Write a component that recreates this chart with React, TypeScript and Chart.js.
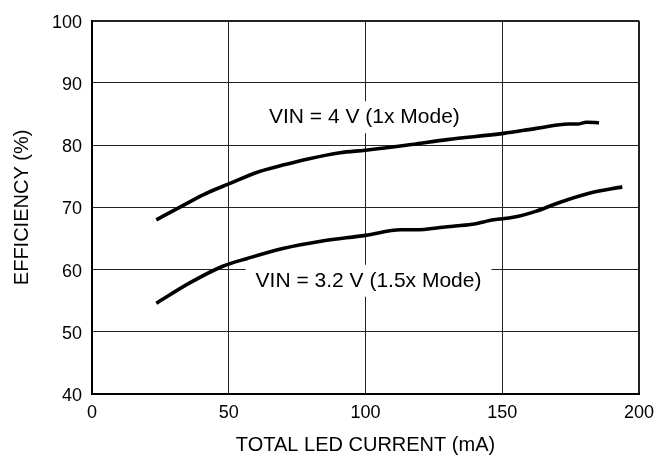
import React, { useEffect, useRef } from 'react';
import { Chart, registerables } from 'chart.js';

Chart.register(...registerables);

// ---- Data ----
const xTickValues = [0, 50, 100, 150, 200];
const yTickValues = [40, 50, 60, 70, 80, 90, 100];

const current4V = [23.5, 32, 41, 50.7, 60.7, 69.8, 79, 90.7, 100, 116.8, 129.9, 150.5, 162.5, 174.3, 177.6, 180.8, 185.4];
const efficiency4V = [68.0, 70.0, 72.1, 73.9, 75.7, 76.8, 77.8, 78.8, 79.2, 80.1, 80.9, 81.9, 82.7, 83.4, 83.4, 83.7, 83.6];

const current32V = [23.5, 35.9, 47.6, 56.8, 69.8, 84.2, 100, 112.9, 118.1, 129.9, 139, 146.9, 154, 162.5, 170.4, 182.1, 193.9];
const efficiency32V = [54.6, 57.9, 60.5, 61.8, 63.4, 64.6, 65.5, 66.4, 66.4, 66.9, 67.3, 68.0, 68.4, 69.4, 70.7, 72.3, 73.3];

const curveLabels = ['VIN = 4 V (1x Mode)', 'VIN = 3.2 V (1.5x Mode)'];
const curveLabelX = [99.6, 101.1];
const curveLabelY = [84.5, 58.2];

const xTitle = 'TOTAL LED CURRENT (mA)';
const yTitle = 'EFFICIENCY (%)';

const FONT = '"Liberation Sans", Arial, Helvetica, sans-serif';

const labelPlugin = {
  id: 'curveLabels',
  beforeDatasetsDraw(chart: any) {
    const { ctx, scales } = chart;
    const xs = scales.x;
    const ys = scales.y;
    ctx.save();
    ctx.font = `21px ${FONT}`;
    ctx.textAlign = 'center';
    ctx.textBaseline = 'middle';
    curveLabels.forEach((t, i) => {
      const px = xs.getPixelForValue(curveLabelX[i]);
      const py = ys.getPixelForValue(curveLabelY[i]);
      const w = ctx.measureText(t).width;
      ctx.fillStyle = '#ffffff';
      ctx.fillRect(px - w / 2 - 10, py - 16, w + 20, 32);
      ctx.fillStyle = '#000000';
      ctx.fillText(t, px, py);
    });
    ctx.restore();
  },
};

export default function App() {
  const canvasRef = useRef<HTMLCanvasElement | null>(null);

  useEffect(() => {
    document.body.style.margin = '0';
    const canvas = canvasRef.current;
    if (!canvas) return;
    const chart = new Chart(canvas, {
      type: 'line',
      data: {
        datasets: [
          {
            label: curveLabels[0],
            data: current4V.map((x, i) => ({ x, y: efficiency4V[i] })),
            borderColor: '#000000',
            borderWidth: 3.6,
            pointRadius: 0,
            cubicInterpolationMode: 'monotone',
            fill: false,
          },
          {
            label: curveLabels[1],
            data: current32V.map((x, i) => ({ x, y: efficiency32V[i] })),
            borderColor: '#000000',
            borderWidth: 3.6,
            pointRadius: 0,
            cubicInterpolationMode: 'monotone',
            fill: false,
          },
        ],
      },
      options: {
        animation: false,
        responsive: false,
        layout: { padding: { left: 0, top: 11, right: 24, bottom: 0 } },
        plugins: {
          legend: { display: false },
          tooltip: { enabled: false },
        },
        scales: {
          x: {
            type: 'linear',
            min: 0,
            max: 200,
            afterBuildTicks: (scale: any) => {
              scale.ticks = xTickValues.map((v) => ({ value: v }));
            },
            afterFit: (scale: any) => {
              scale.height = 75;
            },
            ticks: {
              color: '#000',
              padding: 8,
              maxRotation: 0,
              font: { family: FONT, size: 18 },
            },
            grid: {
              color: '#222',
              lineWidth: (c: any) => (c.tick && c.tick.value === 200 ? 2 : 1),
              drawTicks: false,
            },
            border: { display: true, color: '#000', width: 2 },
            title: {
              display: true,
              text: xTitle,
              color: '#000',
              font: { family: FONT, size: 20 },
              padding: { top: 0, bottom: 12 },
            },
          },
          y: {
            type: 'linear',
            min: 40,
            max: 100,
            afterBuildTicks: (scale: any) => {
              scale.ticks = yTickValues.map((v) => ({ value: v }));
            },
            afterFit: (scale: any) => {
              scale.width = 92;
            },
            ticks: {
              color: '#000',
              padding: 10,
              labelOffset: 2,
              font: { family: FONT, size: 18 },
            },
            grid: {
              color: '#222',
              lineWidth: (c: any) => (c.tick && c.tick.value === 100 ? 2 : 1),
              drawTicks: false,
            },
            border: { display: true, color: '#000', width: 2 },
            title: {
              display: true,
              text: yTitle,
              color: '#000',
              font: { family: FONT, size: 20 },
              padding: { top: 10, bottom: 0 },
            },
          },
        },
      },
      plugins: [labelPlugin],
    } as any);
    return () => chart.destroy();
  }, []);

  return (
    <div style={{ width: 663, height: 469 }}>
      <canvas ref={canvasRef} width={663} height={469} style={{ display: 'block', width: 663, height: 469 }} />
    </div>
  );
}
